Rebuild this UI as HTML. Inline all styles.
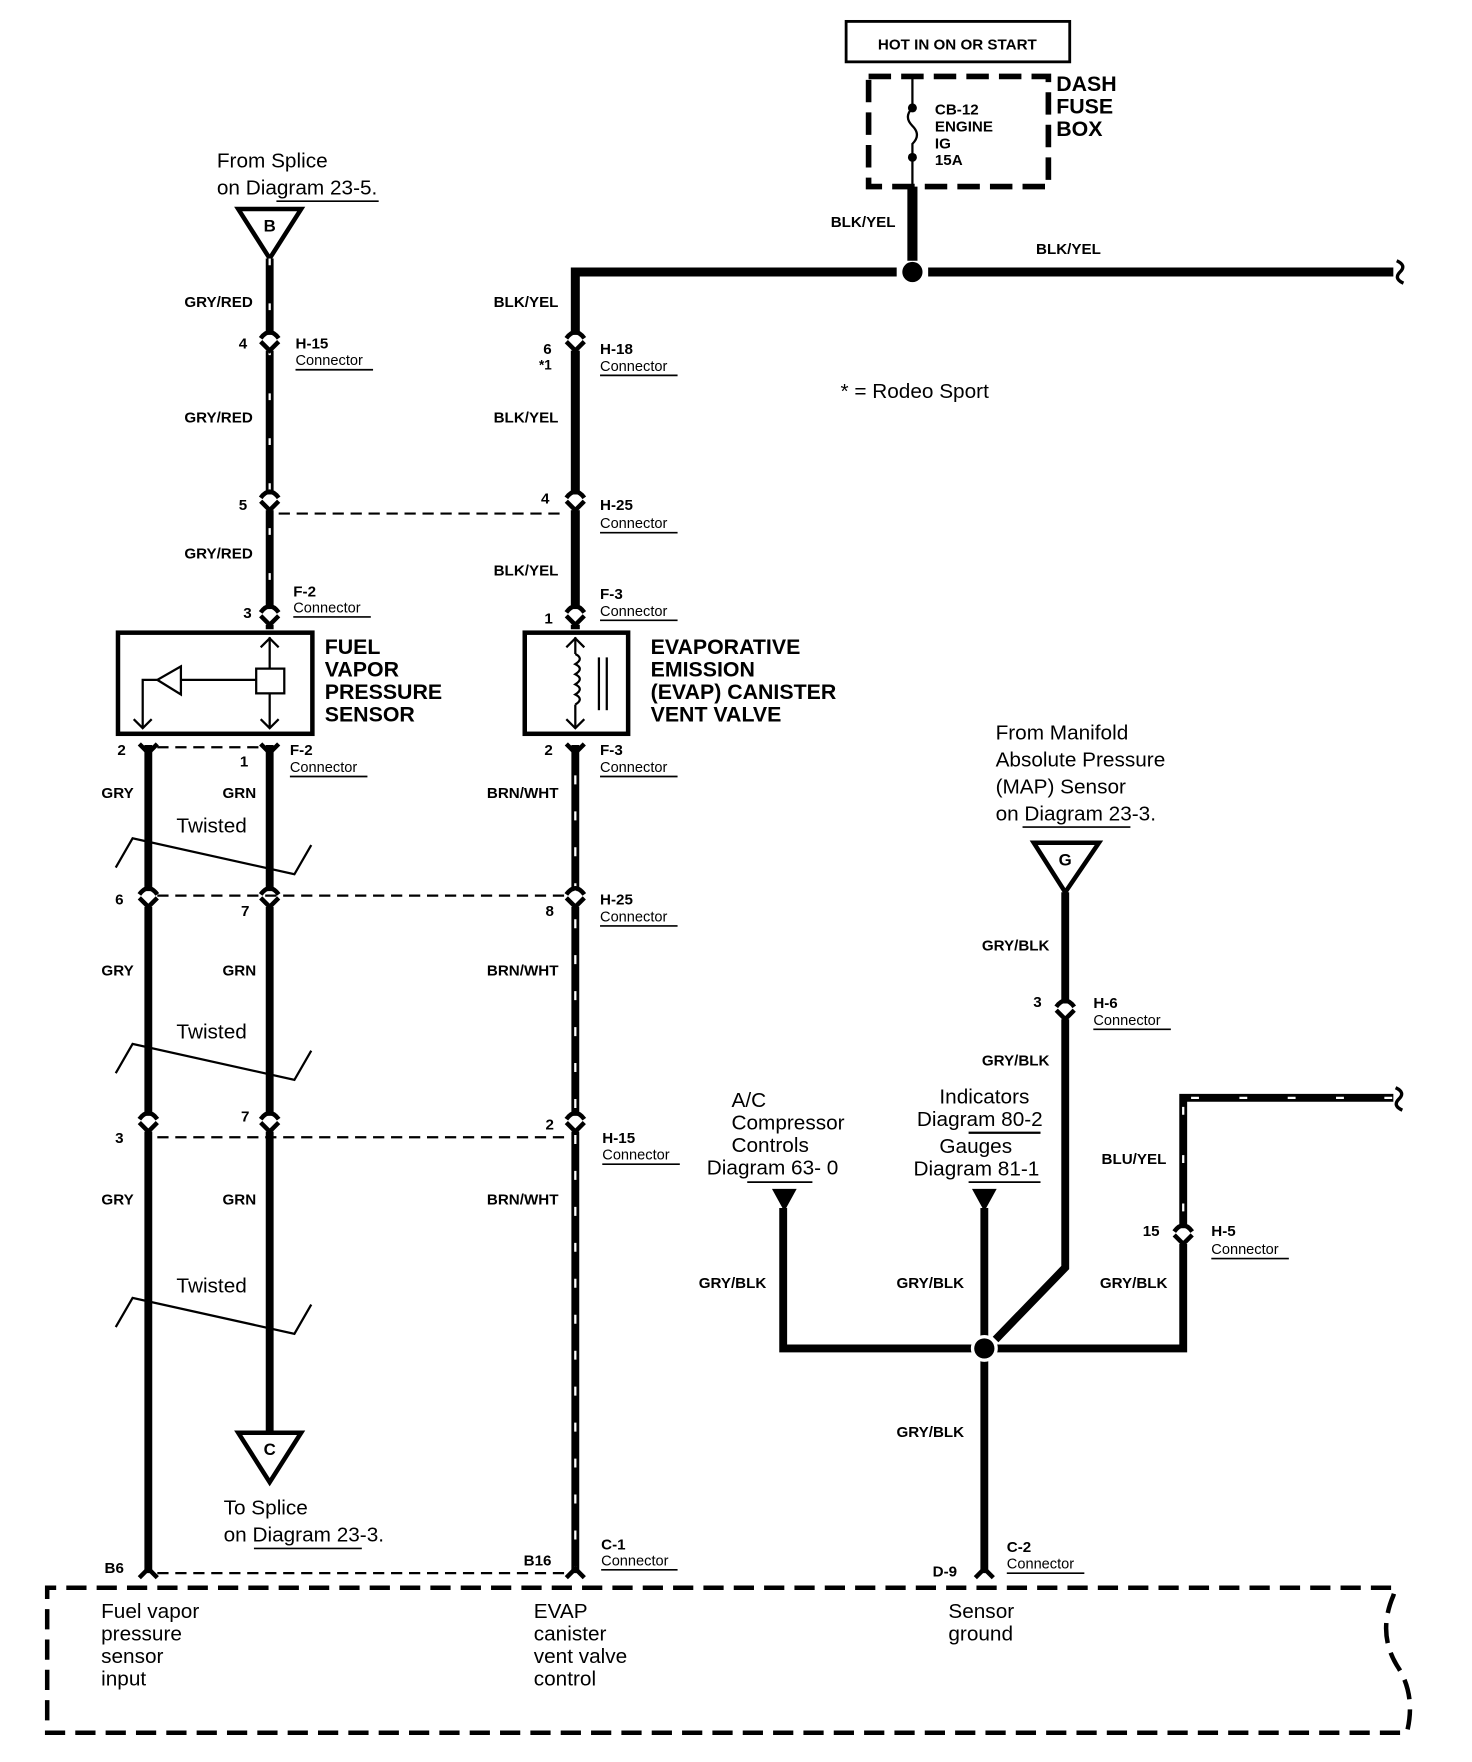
<!DOCTYPE html>
<html><head><meta charset="utf-8"><style>
html,body{margin:0;padding:0;background:#fff}
svg{display:block}
text{font-family:"Liberation Sans",Arial,sans-serif;fill:#000}
.b{font-weight:bold;font-size:13.5px}
.s{font-size:13px}
.big{font-weight:bold;font-size:19px}
.n{font-size:18.5px}
</style></head><body>
<svg width="1472" height="1762" viewBox="0 0 1310 1568" xmlns="http://www.w3.org/2000/svg">
<defs>
<g id="con"><path d="M-8,5 Q0,-6 8,5" fill="none" stroke="#000" stroke-width="4"/><path d="M-8,8 L0,16 L8,8" fill="none" stroke="#000" stroke-width="4"/></g>
</defs>
<!-- HOT box -->
<rect x="753" y="19" width="199" height="36" fill="none" stroke="#000" stroke-width="2.5"/>
<text x="852" y="44" class="b" text-anchor="middle">HOT IN ON OR START</text>
<rect x="773" y="68" width="160" height="98" fill="none" stroke="#000" stroke-width="5" stroke-dasharray="20,9"/>
<line x1="812" y1="68" x2="812" y2="96" stroke="#000" stroke-width="2"/>
<path d="M812,96 Q804,104 812,112 Q820,120 812,128 L812,166" fill="none" stroke="#000" stroke-width="2"/>
<circle cx="812" cy="96" r="4"/><circle cx="812" cy="140" r="4"/>
<text x="832" y="102" class="b">CB-12</text><text x="832" y="117" class="b">ENGINE</text><text x="832" y="132" class="b">IG</text><text x="832" y="147" class="b">15A</text>
<text x="940" y="81" class="big">DASH</text><text x="940" y="101" class="big">FUSE</text><text x="940" y="121" class="big">BOX</text>
<line x1="812" y1="166" x2="812" y2="232" stroke="#000" stroke-width="9"/>
<text x="797" y="202" class="b" text-anchor="end">BLK/YEL</text>
<text x="922" y="226" class="b">BLK/YEL</text>
<path d="M512,560 L512,242 L798,242 M826,242 L1240,242" fill="none" stroke="#000" stroke-width="8"/>
<circle cx="812" cy="242" r="9"/>
<path d="M1243,232 Q1252,236 1246,242 Q1240,248 1249,252" fill="none" stroke="#000" stroke-width="3"/>
<text x="748" y="354" class="n">* =   Rodeo Sport</text>
<!-- B triangle & left wire -->
<text x="193" y="149" class="n">From Splice</text>
<text x="193" y="173" class="n">on Diagram 23-5.</text>
<line x1="246" y1="179" x2="337" y2="179" stroke="#000" stroke-width="1.5"/>
<path d="M212,186 L268,186 L240,230 Z" fill="#fff" stroke="#000" stroke-width="4"/>
<text x="240" y="206" class="b" text-anchor="middle" style="font-size:15px">B</text>
<line x1="240" y1="230" x2="240" y2="560" stroke="#000" stroke-width="7"/>
<line x1="240" y1="230" x2="240" y2="560" stroke="#fff" stroke-width="2" stroke-dasharray="6,34"/>
<text x="225" y="273" class="b" text-anchor="end">GRY/RED</text>
<text x="225" y="376" class="b" text-anchor="end">GRY/RED</text>
<text x="225" y="497" class="b" text-anchor="end">GRY/RED</text>
<text x="497" y="273" class="b" text-anchor="end">BLK/YEL</text>
<text x="497" y="376" class="b" text-anchor="end">BLK/YEL</text>
<text x="497" y="512" class="b" text-anchor="end">BLK/YEL</text>
<!-- connectors upper -->
<g fill="#fff"><rect x="230" y="298" width="20" height="14"/><rect x="230" y="440" width="20" height="14"/><rect x="230" y="542" width="20" height="14"/>
<rect x="502" y="298" width="20" height="14"/><rect x="502" y="440" width="20" height="14"/><rect x="502" y="542" width="20" height="14"/></g>
<use href="#con" x="240" y="296"/><use href="#con" x="240" y="438"/><use href="#con" x="240" y="540"/>
<use href="#con" x="512" y="296"/><use href="#con" x="512" y="438"/><use href="#con" x="512" y="540"/>
<line x1="248" y1="457" x2="504" y2="457" stroke="#000" stroke-width="2" stroke-dasharray="10,6"/>
<text x="220" y="310" class="b" text-anchor="end">4</text>
<text x="220" y="454" class="b" text-anchor="end">5</text>
<text x="224" y="550" class="b" text-anchor="end">3</text>
<text x="491" y="315" class="b" text-anchor="end">6</text>
<text x="491" y="329" class="b" text-anchor="end" style="font-size:12px">*1</text>
<text x="489" y="448" class="b" text-anchor="end">4</text>
<text x="492" y="555" class="b" text-anchor="end">1</text>
<g>
<text x="263" y="310" class="b">H-15</text><text x="263" y="325" class="s">Connector</text><line x1="263" y1="329" x2="332" y2="329" stroke="#000" stroke-width="1.5"/>
<text x="534" y="315" class="b">H-18</text><text x="534" y="330" class="s">Connector</text><line x1="534" y1="334" x2="603" y2="334" stroke="#000" stroke-width="1.5"/>
<text x="534" y="454" class="b">H-25</text><text x="534" y="470" class="s">Connector</text><line x1="534" y1="474" x2="603" y2="474" stroke="#000" stroke-width="1.5"/>
<text x="261" y="531" class="b">F-2</text><text x="261" y="545" class="s">Connector</text><line x1="261" y1="549" x2="330" y2="549" stroke="#000" stroke-width="1.5"/>
<text x="534" y="533" class="b">F-3</text><text x="534" y="548" class="s">Connector</text><line x1="534" y1="552" x2="603" y2="552" stroke="#000" stroke-width="1.5"/>
</g>
<!-- sensor box -->
<rect x="105" y="563" width="173" height="90" fill="none" stroke="#000" stroke-width="4"/>
<line x1="240" y1="567" x2="240" y2="648" stroke="#000" stroke-width="2"/>
<path d="M232,576 L240,568 L248,576 M232,640 L240,648 L248,640 M119,640 L127,648 L135,640" fill="none" stroke="#000" stroke-width="2"/>
<rect x="228" y="595" width="25" height="22" fill="#fff" stroke="#000" stroke-width="2"/>
<line x1="228" y1="605" x2="161" y2="605" stroke="#000" stroke-width="2"/>
<path d="M161,593 L140,605 L161,618 Z" fill="#fff" stroke="#000" stroke-width="2"/>
<path d="M140,605 L127,605 L127,648" fill="none" stroke="#000" stroke-width="2"/>
<text x="289" y="582" class="big">FUEL</text><text x="289" y="602" class="big">VAPOR</text><text x="289" y="622" class="big">PRESSURE</text><text x="289" y="642" class="big">SENSOR</text>
<!-- evap box -->
<rect x="467" y="563" width="92" height="90" fill="none" stroke="#000" stroke-width="4"/>
<line x1="512" y1="567" x2="512" y2="582" stroke="#000" stroke-width="2"/>
<path d="M512,582 q8,4 0,9 q8,4 0,9 q8,4 0,9 q8,4 0,9 q8,4 0,9" fill="none" stroke="#000" stroke-width="2"/>
<line x1="512" y1="627" x2="512" y2="648" stroke="#000" stroke-width="2"/>
<path d="M504,576 L512,568 L520,576 M504,640 L512,648 L520,640" fill="none" stroke="#000" stroke-width="2"/>
<line x1="533" y1="585" x2="533" y2="632" stroke="#000" stroke-width="2"/><line x1="540" y1="585" x2="540" y2="632" stroke="#000" stroke-width="2"/>
<text x="579" y="582" class="big">EVAPORATIVE</text><text x="579" y="602" class="big">EMISSION</text><text x="579" y="622" class="big">(EVAP) CANISTER</text><text x="579" y="642" class="big">VENT VALVE</text>
<!-- lower wires -->
<line x1="132" y1="663" x2="132" y2="1400" stroke="#000" stroke-width="7"/>
<line x1="240" y1="663" x2="240" y2="1275" stroke="#000" stroke-width="7"/>
<line x1="512" y1="663" x2="512" y2="1400" stroke="#000" stroke-width="7"/>
<line x1="512" y1="690" x2="512" y2="1395" stroke="#fff" stroke-width="2" stroke-dasharray="8,24"/>
<g fill="#fff"><rect x="122" y="793" width="20" height="14"/><rect x="230" y="793" width="20" height="14"/><rect x="502" y="793" width="20" height="14"/>
<rect x="122" y="993" width="20" height="14"/><rect x="230" y="993" width="20" height="14"/><rect x="502" y="993" width="20" height="14"/></g>
<g fill="none" stroke="#000" stroke-width="4">
<path d="M124,662 L132,670 L140,662 M232,662 L240,670 L248,662 M504,662 L512,670 L520,662"/>
<path d="M124,1404 L132,1396 L140,1404 M504,1404 L512,1396 L520,1404 M868,1404 L876,1396 L884,1404"/>
</g>
<use href="#con" x="132" y="791"/><use href="#con" x="240" y="791"/><use href="#con" x="512" y="791"/>
<use href="#con" x="132" y="991"/><use href="#con" x="240" y="991"/><use href="#con" x="512" y="991"/>
<g stroke="#000" stroke-width="2" stroke-dasharray="10,6">
<line x1="140" y1="665" x2="232" y2="665"/>
<line x1="140" y1="797" x2="504" y2="797"/>
<line x1="140" y1="1012" x2="504" y2="1012"/>
<line x1="140" y1="1400" x2="504" y2="1400"/>
</g>
<text x="112" y="672" class="b" text-anchor="end">2</text>
<text x="221" y="682" class="b" text-anchor="end">1</text>
<text x="492" y="672" class="b" text-anchor="end">2</text>
<text x="258" y="672" class="b">F-2</text><text x="258" y="687" class="s">Connector</text><line x1="258" y1="691" x2="327" y2="691" stroke="#000" stroke-width="1.5"/>
<text x="534" y="672" class="b">F-3</text><text x="534" y="687" class="s">Connector</text><line x1="534" y1="691" x2="603" y2="691" stroke="#000" stroke-width="1.5"/>
<text x="110" y="805" class="b" text-anchor="end">6</text><text x="222" y="815" class="b" text-anchor="end">7</text><text x="493" y="815" class="b" text-anchor="end">8</text>
<text x="534" y="805" class="b">H-25</text><text x="534" y="820" class="s">Connector</text><line x1="534" y1="824" x2="603" y2="824" stroke="#000" stroke-width="1.5"/>
<text x="110" y="1017" class="b" text-anchor="end">3</text><text x="222" y="998" class="b" text-anchor="end">7</text><text x="493" y="1005" class="b" text-anchor="end">2</text>
<text x="536" y="1017" class="b">H-15</text><text x="536" y="1032" class="s">Connector</text><line x1="536" y1="1036" x2="605" y2="1036" stroke="#000" stroke-width="1.5"/>
<g class="b">
<text x="119" y="710" class="b" text-anchor="end">GRY</text><text x="228" y="710" class="b" text-anchor="end">GRN</text><text x="497" y="710" class="b" text-anchor="end">BRN/WHT</text>
<text x="119" y="868" class="b" text-anchor="end">GRY</text><text x="228" y="868" class="b" text-anchor="end">GRN</text><text x="497" y="868" class="b" text-anchor="end">BRN/WHT</text>
<text x="119" y="1072" class="b" text-anchor="end">GRY</text><text x="228" y="1072" class="b" text-anchor="end">GRN</text><text x="497" y="1072" class="b" text-anchor="end">BRN/WHT</text>
</g>
<!-- twisted -->
<g fill="none" stroke="#000" stroke-width="2">
<path d="M103,772 L118,746 L262,778 L277,752"/>
<path d="M103,955 L118,929 L262,961 L277,935"/>
<path d="M103,1181 L118,1155 L262,1187 L277,1161"/>
</g>
<text x="157" y="741" class="n">Twisted</text><text x="157" y="924" class="n">Twisted</text><text x="157" y="1150" class="n">Twisted</text>
<!-- C -->
<path d="M212,1275 L268,1275 L240,1319 Z" fill="#fff" stroke="#000" stroke-width="4"/>
<text x="240" y="1295" class="b" text-anchor="middle" style="font-size:15px">C</text>
<text x="199" y="1348" class="n">To Splice</text><text x="199" y="1372" class="n">on Diagram 23-3.</text>
<line x1="226" y1="1378" x2="322" y2="1378" stroke="#000" stroke-width="1.5"/>
<text x="93" y="1400" class="b">B6</text><text x="466" y="1393" class="b">B16</text>
<text x="535" y="1379" class="b">C-1</text><text x="535" y="1393" class="s">Connector</text><line x1="535" y1="1397" x2="603" y2="1397" stroke="#000" stroke-width="1.5"/>
<!-- right side -->
<text x="886" y="658" class="n">From Manifold</text>
<text x="886" y="682" class="n">Absolute Pressure</text>
<text x="886" y="706" class="n">(MAP) Sensor</text>
<text x="886" y="730" class="n">on Diagram 23-3.</text>
<line x1="910" y1="736" x2="1006" y2="736" stroke="#000" stroke-width="1.5"/>
<path d="M920,750 L978,750 L948,794 Z" fill="#fff" stroke="#000" stroke-width="4"/>
<text x="948" y="770" class="b" text-anchor="middle" style="font-size:15px">G</text>
<path d="M948,794 L948,1128 L886,1192" fill="none" stroke="#000" stroke-width="7"/>
<rect x="938" y="893" width="20" height="14" fill="#fff"/>
<use href="#con" x="948" y="891"/>
<text x="927" y="896" class="b" text-anchor="end">3</text>
<text x="973" y="897" class="b">H-6</text><text x="973" y="912" class="s">Connector</text><line x1="973" y1="916" x2="1042" y2="916" stroke="#000" stroke-width="1.5"/>
<text x="934" y="846" class="b" text-anchor="end">GRY/BLK</text>
<text x="934" y="948" class="b" text-anchor="end">GRY/BLK</text>
<path d="M1240,977 L1053,977 L1053,1200 L697,1200 L697,1075" fill="none" stroke="#000" stroke-width="7"/>
<path d="M1060,977 L1240,977 M1053,985 L1053,1090" fill="none" stroke="#fff" stroke-width="2" stroke-dasharray="7,36"/>
<path d="M1242,968 Q1251,972 1245,978 Q1239,984 1248,988" fill="none" stroke="#000" stroke-width="3"/>
<rect x="1043" y="1093" width="20" height="14" fill="#fff"/>
<use href="#con" x="1053" y="1091"/>
<text x="1032" y="1100" class="b" text-anchor="end">15</text>
<text x="1078" y="1100" class="b">H-5</text><text x="1078" y="1116" class="s">Connector</text><line x1="1078" y1="1120" x2="1147" y2="1120" stroke="#000" stroke-width="1.5"/>
<text x="1038" y="1036" class="b" text-anchor="end">BLU/YEL</text>
<line x1="876" y1="1075" x2="876" y2="1400" stroke="#000" stroke-width="7"/>
<circle cx="876" cy="1200" r="12" fill="#fff"/>
<circle cx="876" cy="1200" r="9"/>
<path d="M687,1058 L709,1058 L698,1078 Z"/><path d="M865,1058 L887,1058 L876,1078 Z"/>
<text x="682" y="1146" class="b" text-anchor="end">GRY/BLK</text>
<text x="858" y="1146" class="b" text-anchor="end">GRY/BLK</text>
<text x="1039" y="1146" class="b" text-anchor="end">GRY/BLK</text>
<text x="858" y="1279" class="b" text-anchor="end">GRY/BLK</text>
<text x="651" y="985" class="n">A/C</text><text x="651" y="1005" class="n">Compressor</text><text x="651" y="1025" class="n">Controls</text>
<text x="629" y="1045" class="n">Diagram 63- 0</text>
<line x1="665" y1="1052" x2="723" y2="1052" stroke="#000" stroke-width="1.5"/>
<text x="836" y="982" class="n">Indicators</text>
<text x="816" y="1002" class="n">Diagram 80-2</text>
<line x1="862" y1="1008" x2="926" y2="1008" stroke="#000" stroke-width="2"/>
<text x="836" y="1026" class="n">Gauges</text>
<text x="813" y="1046" class="n">Diagram 81-1</text>
<line x1="862" y1="1052" x2="926" y2="1052" stroke="#000" stroke-width="1.5"/>
<text x="830" y="1403" class="b">D-9</text>
<text x="896" y="1381" class="b">C-2</text><text x="896" y="1396" class="s">Connector</text><line x1="896" y1="1400" x2="965" y2="1400" stroke="#000" stroke-width="1.5"/>
<!-- bottom dashed box -->
<path d="M1238,1413 L42,1413 L42,1542 L1252,1542 Q1260,1510 1245,1485 Q1225,1455 1240,1420 L1242,1413" fill="none" stroke="#000" stroke-width="4" stroke-dasharray="18,9"/>
<text x="90" y="1440" class="n">Fuel vapor</text><text x="90" y="1460" class="n">pressure</text><text x="90" y="1480" class="n">sensor</text><text x="90" y="1500" class="n">input</text>
<text x="475" y="1440" class="n">EVAP</text><text x="475" y="1460" class="n">canister</text><text x="475" y="1480" class="n">vent valve</text><text x="475" y="1500" class="n">control</text>
<text x="844" y="1440" class="n">Sensor</text><text x="844" y="1460" class="n">ground</text>
</svg>
</body></html>
